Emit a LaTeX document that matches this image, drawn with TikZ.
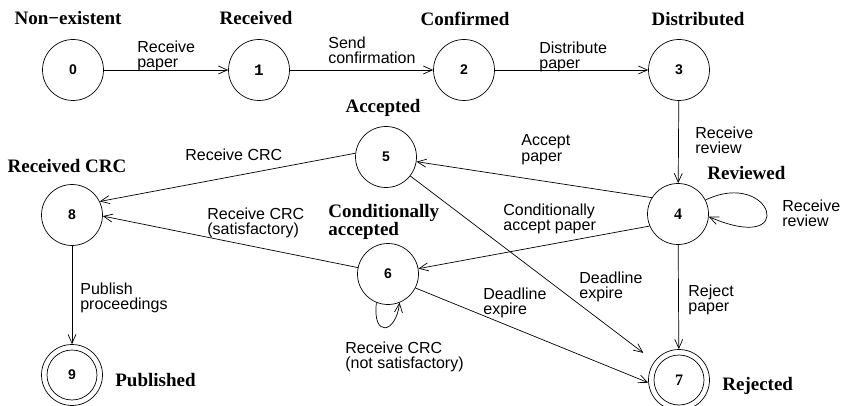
\documentclass[tikz,border=0pt]{standalone}
\usepackage{fontspec}
\setmainfont{Liberation Serif}
\setsansfont{Liberation Sans}
\setmonofont{Liberation Mono}
\usetikzlibrary{arrows.meta}
\begin{document}
\begin{tikzpicture}[x=1pt,y=1pt,line width=0.7pt,
  >={Straight Barb[length=9pt,width=8pt]},
  state/.style={circle,draw,minimum size=61pt,inner sep=0pt,
    font=\sffamily\bfseries\fontsize{14}{14}\selectfont},
  serifnum/.style={font=\rmfamily\bfseries\fontsize{16}{16}\selectfont},
  mononum/.style={font=\ttfamily\bfseries\fontsize{16}{16}\selectfont},
  title/.style={inner sep=0pt,anchor=base,
    font=\rmfamily\bfseries\fontsize{19}{16}\selectfont},
  lab/.style={inner sep=0pt,anchor=north west,align=left,
    font=\sffamily\fontsize{16}{15.5}\selectfont},
  trans/.style={->},
]
\useasboundingbox (0,0) rectangle (843,-406);

% states
\node[state] (n0) at (73,-70) {0};
\node[state,mononum] (n1) at (259,-70) {1};
\node[state] (n2) at (464,-70) {2};
\node[state] (n3) at (679,-70) {3};
\node[state] (n5) at (386,-157) {5};
\node[state,serifnum] (n4) at (678,-214) {4};
\node[state] (n8) at (72,-215) {8};
\node[state] (n6) at (388,-274) {6};
\node[state] (n9) at (72,-375) {9};
\node[state,serifnum] (n7) at (679,-380) {7};
% final states get an inner ring
\draw (n9.center) circle[radius=25pt];
\draw (n7.center) circle[radius=25pt];

% state names
\node[title] (t0) at (68,-25) {Non−existent};
\node[title] (t1) at (256,-25) {Received};
\node[title] (t2) at (465,-26) {Confirmed};
\node[title] (t3) at (698,-26) {Distributed};
\node[title] (t5) at (383,-113) {Accepted};
\node[title] (t8) at (67,-173) {Received CRC};
\node[title,anchor=north west,align=left] (t6) at (328,-204) {Conditionally\\accepted};
\node[title,anchor=base west] (t4) at (707,-180) {Reviewed};
\node[title,anchor=base west] (t9) at (115,-386) {Published};
\node[title,anchor=base west] (t7) at (722,-390) {Rejected};

% transitions
\draw[trans] (n0) -- (n1);
\draw[trans] (n1) -- (n2);
\draw[trans] (n2) -- (n3);
\draw[trans] (n3) -- (n4);
\draw[trans] (n4.148) -- (n5);
\draw[trans] (n4.203) -- (n6.10);
\draw[trans] (n5.173) -- (n8.26);
\draw[trans] (n6.168) -- (n8.-2);
\draw[trans,shorten >=14pt] (n5.-38) -- (n7);
\draw[trans] (n6.-27) -- (n7.185);
\draw[trans] (n4) -- (n7);
\draw[trans] (n8) -- (n9);
\draw[trans] (n4.27) .. controls (772,-168) and (800,-256) .. (n4.-5);
\draw[trans] (n6.-112) .. controls (372,-338) and (396,-334) .. (n6.-68);

% transition labels
\node[lab] (l01) at (137,-40.5) {Receive\\paper};
\node[lab] (l12) at (328,-36.5) {Send\\confirmation};
\node[lab] (l23) at (539,-41.5) {Distribute\\paper};
\node[lab] (l34) at (695,-126.5) {Receive\\review};
\node[lab] (l45) at (521,-134.5) {Accept\\paper};
\node[lab] (l58) at (185,-148.5) {Receive CRC};
\node[lab] (l68) at (207,-207.5) {Receive CRC\\(satisfactory)};
\node[lab] (l46) at (503,-203.5) {Conditionally\\accept paper};
\node[lab] (l44) at (782,-199.5) {Receive\\review};
\node[lab] (l89) at (80,-282.5) {Publish\\proceedings};
\node[lab] (l66) at (345,-341.5) {Receive CRC\\(not satisfactory)};
\node[lab] (l57) at (579,-271.5) {Deadline\\expire};
\node[lab] (l67) at (483,-287.5) {Deadline\\expire};
\node[lab] (l47) at (688,-284.5) {Reject\\paper};
\end{tikzpicture}
\end{document}
